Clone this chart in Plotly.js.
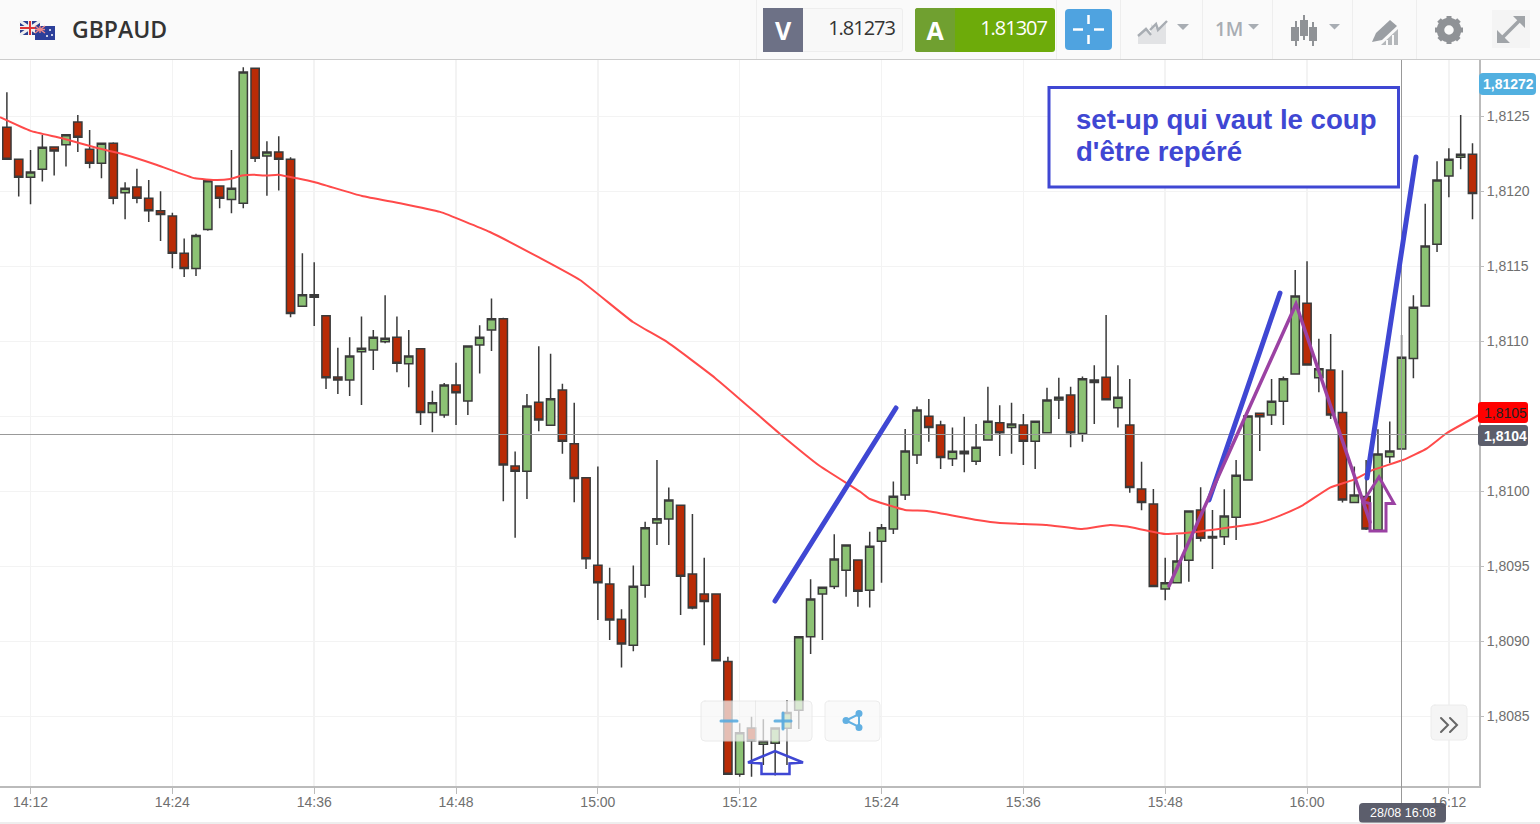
<!DOCTYPE html>
<html><head><meta charset="utf-8">
<script src="https://cdn.plot.ly/plotly-3.0.1.min.js"></script>
<style>
html,body{margin:0;padding:0;background:#fff;width:1540px;height:824px;overflow:hidden}
#chart{position:absolute;left:0;top:0;width:1540px;height:824px}
#top{position:absolute;left:0;top:0;width:1540px;height:59px;background:#fafafa;border-bottom:1px solid #ccc;font-family:"Open Sans",sans-serif;z-index:5}
#top div{position:absolute;box-sizing:border-box}
#top svg{position:absolute;left:0;top:0}
.sep{top:0;width:1px;height:59px;background:#eee}
.pr{font-size:20px;line-height:42px;height:42px;top:7px;text-align:right;letter-spacing:-1px}
.lt{font-size:25px;font-weight:700;color:#fff;text-align:center;top:8px;height:44px;line-height:44px;width:40px}
.shapelayer path{stroke-linecap:round}
</style></head><body>
<div id="chart"></div>
<div id="top">
 <div style="left:72px;top:11px;font-size:23px;font-weight:600;color:#333;line-height:36px">GBPAUD</div>
 <div class="sep" style="left:756px"></div><div class="sep" style="left:1056px"></div><div class="sep" style="left:1120px"></div><div class="sep" style="left:1202px"></div><div class="sep" style="left:1272px"></div><div class="sep" style="left:1352px"></div><div class="sep" style="left:1416px"></div>
 <div style="left:803px;top:8px;width:100px;height:44px;background:#f8f8f8;border:1px solid #eee;border-left:0;border-radius:0 3px 3px 0"></div>
 <div class="lt" style="left:763px;background:#6d7186">V</div>
 <div class="pr" style="left:803px;width:92px;color:#333">1.81273</div>
 <div style="left:915px;top:8px;width:140px;height:44px;background:#6dab0a;border-radius:3px"></div>
 <div class="lt" style="left:915px;background:#70a030;border-radius:3px 0 0 3px">A</div>
 <div class="pr" style="left:955px;width:92px;color:#fff">1.81307</div>
 <div style="left:1065px;top:9px;width:47px;height:41px;background:#4fa3e0;border-radius:4px"></div>
 <div style="left:1492px;top:10px;width:38px;height:38px;background:#f4f4f4"></div>
 <div style="left:1215px;top:8px;font-size:19px;line-height:42px;color:#a8adb3;font-weight:600">1M</div>
 <svg width="1540" height="59" viewBox="0 0 1540 59">
  <rect x="20" y="21" width="20" height="14" fill="#2a3f8f"/>
  <path d="M20 21L40 35M40 21L20 35" stroke="#eee" stroke-width="3"/>
  <path d="M30 21V35M20 28H40" stroke="#eee" stroke-width="4"/>
  <path d="M30 21V35M20 28H40" stroke="#d33" stroke-width="2"/>
  <rect x="35" y="26" width="20" height="14" fill="#2c3f9a"/>
  <path d="M35 26L45 33M45 26L35 33M40 26V33M35 29.5H45" stroke="#e88" stroke-width="1.4"/>
  <circle cx="50" cy="30" r="1" fill="#fff"/><circle cx="52" cy="35" r="1" fill="#fff"/><circle cx="47" cy="36" r="1" fill="#fff"/>
  <path d="M1088.5 15V24M1088.5 35V44M1073 29.5H1083M1094 29.5H1104" stroke="#fff" stroke-width="2.5"/>
  <path d="M1138 44V35L1146 27L1151 33V24L1157 29L1166 21V44Z" fill="#e2e3e5"/>
  <path d="M1138 36L1146 29L1151 35M1150 30L1156 24L1158 30L1167 21" stroke="#a8adb3" stroke-width="2.4" fill="none"/>
  <path d="M1177 24H1189L1183 30Z M1248 24H1259L1253.5 29.5Z M1329 24H1340L1334.5 29.5Z" fill="#a8adb3"/>
  <path d="M1296 21V46M1304 15V40M1313 22V46" stroke="#8f9296" stroke-width="2"/>
  <path d="M1291 27H1299V41H1291Z M1300 20H1308V36H1300Z M1309 27H1317V41H1309Z" fill="#8f9296"/>
  <path d="M1372 42L1376 33L1390 20L1397 26L1382 40Z" fill="#9a9ea3"/>
  <path d="M1381 45H1386V40H1388V45H1392V35H1394V45H1398V29Z" fill="#b4b7ba"/>
  <circle cx="1449" cy="30" r="8.5" fill="none" stroke="#8f9296" stroke-width="7.5"/>
  <path d="M1449 16V44M1435 30H1463M1439 20L1459 40M1459 20L1439 40" stroke="#8f9296" stroke-width="5" stroke-dasharray="4 20 4"/>
  <path d="M1500 40L1522 18" stroke="#a0a4a8" stroke-width="3.5"/>
  <path d="M1513 16H1525V28Z M1497 30V43H1510Z" fill="#a0a4a8"/>
 </svg>
</div>
<script>
// Time of each one-minute candle (28/08)
const times = ["14:10","14:11","14:12","14:13","14:14","14:15","14:16","14:17","14:18","14:19","14:20","14:21","14:22","14:23","14:24","14:25","14:26","14:27","14:28","14:29","14:30","14:31","14:32","14:33","14:34","14:35","14:36","14:37","14:38","14:39","14:40","14:41","14:42","14:43","14:44","14:45","14:46","14:47","14:48","14:49","14:50","14:51","14:52","14:53","14:54","14:55","14:56","14:57","14:58","14:59","15:00","15:01","15:02","15:03","15:04","15:05","15:06","15:07","15:08","15:09","15:10","15:11","15:12","15:13","15:14","15:15","15:16","15:17","15:18","15:19","15:20","15:21","15:22","15:23","15:24","15:25","15:26","15:27","15:28","15:29","15:30","15:31","15:32","15:33","15:34","15:35","15:36","15:37","15:38","15:39","15:40","15:41","15:42","15:43","15:44","15:45","15:46","15:47","15:48","15:49","15:50","15:51","15:52","15:53","15:54","15:55","15:56","15:57","15:58","15:59","16:00","16:01","16:02","16:03","16:04","16:05","16:06","16:07","16:08","16:09","16:10","16:11","16:12","16:13","16:14"];
const opens = [1.812428,1.812215,1.812095,1.812148,1.812297,1.812312,1.812464,1.812282,1.812188,1.812322,1.811992,1.812030,1.811955,1.811872,1.811837,1.811588,1.811486,1.811746,1.812037,1.811946,1.811922,1.812822,1.812237,1.812264,1.812215,1.811235,1.811312,1.811172,1.810764,1.810744,1.810932,1.810944,1.810999,1.811028,1.810852,1.810952,1.810526,1.810510,1.810710,1.810604,1.810977,1.811077,1.811152,1.810170,1.810135,1.810595,1.810442,1.810677,1.810319,1.810092,1.809508,1.809384,1.809148,1.808975,1.809375,1.809790,1.809817,1.809908,1.809450,1.809317,1.809317,1.808866,1.808115,1.808424,1.808315,1.808322,1.808422,1.808542,1.809032,1.809317,1.809366,1.809475,1.809544,1.809342,1.809668,1.809750,1.809977,1.810244,1.810502,1.810444,1.810219,1.810252,1.810202,1.810344,1.810459,1.810426,1.810444,1.810335,1.810392,1.810610,1.810644,1.810386,1.810744,1.810762,1.810559,1.810444,1.810017,1.809917,1.809350,1.809392,1.809542,1.809877,1.809690,1.809699,1.809828,1.810077,1.810522,1.810510,1.810602,1.810784,1.811255,1.810759,1.810810,1.810526,1.809926,1.809966,1.809744,1.810232,1.810284,1.810886,1.811237,1.811648,1.812104,1.812228,1.812248];
const highs = [1.812662,1.812215,1.812277,1.812377,1.812297,1.812379,1.812510,1.812410,1.812322,1.812328,1.812062,1.812152,1.812077,1.812002,1.811859,1.811686,1.811719,1.812072,1.812037,1.812277,1.812828,1.812822,1.812335,1.812368,1.812228,1.811588,1.811528,1.811177,1.810959,1.811028,1.811166,1.811077,1.811308,1.811166,1.811077,1.810952,1.810672,1.810724,1.810859,1.810970,1.811108,1.811286,1.811159,1.810266,1.810650,1.810968,1.810919,1.810719,1.810592,1.810092,1.810166,1.809492,1.809215,1.809506,1.809799,1.810210,1.810026,1.809908,1.809850,1.809559,1.809317,1.808899,1.808455,1.808499,1.808482,1.808424,1.808610,1.809032,1.809415,1.809362,1.809715,1.809644,1.809544,1.809732,1.809784,1.810066,1.810417,1.810566,1.810617,1.810472,1.810426,1.810499,1.810450,1.810699,1.810575,1.810592,1.810517,1.810468,1.810692,1.810759,1.810699,1.810766,1.810842,1.811177,1.810842,1.810750,1.810199,1.810017,1.809559,1.809710,1.809870,1.810028,1.809877,1.810015,1.810210,1.810504,1.810522,1.810750,1.810766,1.811477,1.811535,1.811019,1.811050,1.810808,1.810166,1.810210,1.810415,1.810466,1.811044,1.811308,1.811919,1.812202,1.812288,1.812510,1.812322];
const lows = [1.812215,1.811966,1.811915,1.812066,1.812106,1.812166,1.812264,1.812155,1.812088,1.811915,1.811815,1.811922,1.811797,1.811670,1.811488,1.811430,1.811437,1.811739,1.811888,1.811855,1.811888,1.812197,1.811972,1.812006,1.811162,1.811235,1.811104,1.810684,1.810650,1.810637,1.810577,1.810810,1.810988,1.810795,1.810695,1.810444,1.810395,1.810492,1.810444,1.810510,1.810786,1.810937,1.809935,1.809692,1.809950,1.810402,1.810442,1.810252,1.809928,1.809484,1.809144,1.809010,1.808826,1.808935,1.809292,1.809644,1.809644,1.809177,1.809215,1.808975,1.808868,1.808115,1.808099,1.808099,1.808177,1.808106,1.808177,1.808417,1.808917,1.809010,1.809350,1.809299,1.809232,1.809226,1.809392,1.809717,1.809944,1.810184,1.810332,1.810150,1.810170,1.810128,1.810177,1.810344,1.810237,1.810252,1.810177,1.810150,1.810392,1.810484,1.810295,1.810332,1.810450,1.810612,1.810426,1.809992,1.809875,1.809366,1.809275,1.809392,1.809399,1.809666,1.809484,1.809644,1.809677,1.810077,1.810270,1.810444,1.810444,1.810784,1.810844,1.810662,1.810484,1.809926,1.809926,1.809744,1.809744,1.810188,1.810284,1.810755,1.811237,1.811597,1.811962,1.812148,1.811815];
const closes = [1.812215,1.812095,1.812130,1.812295,1.812270,1.812379,1.812362,1.812188,1.812322,1.811955,1.812022,1.811955,1.811872,1.811846,1.811588,1.811486,1.811706,1.812072,1.811955,1.812022,1.812797,1.812222,1.812264,1.812215,1.811186,1.811312,1.811295,1.810759,1.810744,1.810904,1.810955,1.811028,1.811022,1.810855,1.810904,1.810526,1.810592,1.810710,1.810659,1.810970,1.811028,1.811152,1.810177,1.810135,1.810570,1.810477,1.810619,1.810335,1.810086,1.809552,1.809392,1.809144,1.808984,1.809368,1.809759,1.809819,1.809944,1.809435,1.809224,1.809266,1.808872,1.808115,1.808392,1.808339,1.808337,1.808424,1.808526,1.809032,1.809284,1.809362,1.809550,1.809644,1.809335,1.809635,1.809759,1.809968,1.810270,1.810544,1.810426,1.810226,1.810268,1.810268,1.810295,1.810468,1.810392,1.810450,1.810335,1.810468,1.810610,1.810628,1.810392,1.810752,1.810726,1.810612,1.810628,1.810026,1.809926,1.809366,1.809392,1.809537,1.809870,1.809688,1.809700,1.809837,1.810108,1.810504,1.810499,1.810602,1.810752,1.811304,1.810844,1.810819,1.810510,1.809944,1.809977,1.809750,1.810250,1.810270,1.810895,1.811228,1.811637,1.812077,1.812215,1.812248,1.811986];
// Moving average read at irregular times
const maTimes = ["14:09:25","14:12:00","14:14:40","14:17:43","14:19:50","14:22:42","14:25:55","14:27:47","14:28:53","14:29:53","14:30:49","14:32:00","14:32:56","14:34:33","14:36:04","14:40:03","14:43:16","14:46:39","14:50:52","14:55:06","14:58:29","15:02:58","15:05:51","15:09:55","15:15:25","15:18:47","15:22:11","15:23:01","15:25:59","15:27:51","15:32:05","15:34:01","15:37:59","15:40:58","15:43:20","15:44:46","15:47:59","15:50:06","15:55:46","15:57:43","15:59:40","16:01:57","16:03:54","16:05:35","16:08:07","16:10:09","16:11:50","16:14:33"];
const maValues = [1.812495,1.812404,1.812355,1.812288,1.812248,1.812177,1.812088,1.812077,1.812084,1.812106,1.812112,1.812106,1.812112,1.812088,1.812062,1.811970,1.811922,1.811864,1.811730,1.811557,1.811410,1.811130,1.810997,1.810757,1.810384,1.810170,1.809999,1.809950,1.809877,1.809870,1.809810,1.809790,1.809777,1.809750,1.809777,1.809766,1.809717,1.809726,1.809788,1.809839,1.809910,1.810026,1.810077,1.810144,1.810210,1.810288,1.810390,1.810510];
// Price tick positions and labels (the 1,8105 label is hidden by the red quote tag)
const priceTicks = [1.8085,1.8090,1.8095,1.8100,1.8105,1.8110,1.8115,1.8120,1.8125];
const priceLabels = ["1,8085","1,8090","1,8095","1,8100","","1,8110","1,8115","1,8120","1,8125"];
const day = "2017-08-28 ";
const stamp = t => day + (t.length === 5 ? t + ":00" : t);

const PW = 1479, PH = 726, PT = 60;
const X = px => px / PW, Y = py => 1 - (py - PT) / PH;
const poly = (pts, close) => "M" + pts.map(p => X(p[0]) + " " + Y(p[1])).join("L") + (close ? "Z" : "");
const shp = (pts, color, w, close, fill, op) => ({type:"path", xref:"paper", yref:"paper", layer:"above", path:poly(pts, close),
  line:{color:color, width:w}, fillcolor:fill || "rgba(0,0,0,0)", opacity: op === undefined ? 1 : op});
const round = (x0,y0,x1,y1,r,fill,op,lc,lw) => {
  const a=(x,y)=>X(x)+" "+Y(y);
  return {type:"path", xref:"paper", yref:"paper", layer:"above", fillcolor:fill, opacity:op===undefined?1:op, line:{color:lc||"rgba(0,0,0,0)",width:lw||0},
   path:`M${a(x0+r,y0)}L${a(x1-r,y0)}Q${a(x1,y0)} ${a(x1,y0+r)}L${a(x1,y1-r)}Q${a(x1,y1)} ${a(x1-r,y1)}L${a(x0+r,y1)}Q${a(x0,y1)} ${a(x0,y1-r)}L${a(x0,y0+r)}Q${a(x0,y0)} ${a(x0+r,y0)}Z`};
};
const BLUE = "#3f47d3", PURPLE = "#9b42a3", GREY = "#999";
const dot = (x0,y0,x1,y1) => ({type:"circle",xref:"paper",yref:"paper",layer:"above",x0:X(x0),x1:X(x1),y0:Y(y1),y1:Y(y0),fillcolor:"#62b0e2",line:{width:0}});
const shapes = [
  shp([[0,434.5],[1480,434.5]], GREY, 1),
  shp([[1401.5,60],[1401.5,805]], GREY, 1),
  shp([[775,601],[896,408]], BLUE, 5),
  shp([[1209,500],[1280,293]], BLUE, 5),
  shp([[1367,478],[1416,157]], BLUE, 5),
  shp([[1169,586],[1296,304],[1370,522]], PURPLE, 3.5),
  shp([[1370,531],[1386,531],[1386,503.5],[1394,503.5],[1379,477],[1363,502],[1370,503.5]], PURPLE, 3, true),
  shp([[761.5,774],[789.5,774],[789.5,763.5],[803,762.5],[775,751],[748,762.5],[761.5,763.5]], BLUE, 2.5, true),
  shp([[1049,87.5],[1398.5,87.5],[1398.5,187],[1049,187]], BLUE, 3, true, "#fff"),
  round(701,701,812,741,4,"#f7f7f7",0.72,"#e4e4e4",1),
  shp([[755.5,701],[755.5,741]], "#ddd", 1, false, null, 0.5),
  shp([[721,721],[737,721]], "#5aace0", 3, false, null, 0.9),
  shp([[775,721],[791,721]], "#5aace0", 3, false, null, 0.9),
  shp([[783,713],[783,729]], "#5aace0", 3, false, null, 0.9),
  round(825,701,880,741,4,"#fafafa",0.8,"#e8e8e8",1),
  shp([[846,720.5],[859,714],[859,727],[846,720.5]], "#62b0e2", 2),
  dot(842.5,717,849.5,724), dot(855.5,710,862.5,717), dot(855.5,724,862.5,731),
  round(1431,705,1467,740,4,"#f5f5f5",1,"#ececec",1),
  shp([[1441,718],[1448,725],[1441,732]], "#666", 2),
  shp([[1450,718],[1457,725],[1450,732]], "#666", 2),
  round(1479,73,1536,95,4,"#52b0e0"),
  round(1478,402,1528,423,3,"#ff0000"),
  round(1478,425,1528,446,3,"#5c5e6b"),
  round(1359,803,1446,823,4,"#555766",0.96),
  shp([[0,823],[1540,823]], "#ddd", 1)
];
const note = (txt, px, py, size, color, anchor, weight) => ({text:txt, xref:"paper", yref:"paper", x:X(px), y:Y(py), xanchor:anchor||"center", yanchor:"middle", showarrow:false,
  font:{family:"Liberation Sans, Arial, sans-serif", size:size, color:color, weight:weight||400}, borderpad:0});
const annotations = [
  note("set-up qui vaut le coup",1074.5,120,27.6,BLUE,"left",700),
  note("d'être repéré",1074.5,152,27.6,BLUE,"left",700),
  note("1,81272",1508.5,84,14,"#fff","center",700),
  note("1,8105",1505,413,14,"#222","center",400),
  note("1,8104",1505,436,14,"#fff","center",700),
  note("28/08 16:08",1402.5,813,12.5,"#fff","center",400)
];
const candles = {
  type:"candlestick", x:times.map(stamp), open:opens, high:highs, low:lows, close:closes,
  increasing:{fillcolor:"#8cc274", line:{color:"#3a3a3a", width:1.5}},
  decreasing:{fillcolor:"#b92b06", line:{color:"#3a3a3a", width:1.5}},
  whiskerwidth:0, hoverinfo:"skip", showlegend:false
};
const ma = {type:"scatter", mode:"lines", x:maTimes.map(stamp), y:maValues, line:{color:"#ff4a4a", width:2, shape:"spline", smoothing:0.4}, hoverinfo:"skip", showlegend:false};
const axisFont = {family:"Liberation Sans, Arial, sans-serif", size:14, color:"#6f6f6f"};
const layout = {
  width:1540, height:824, margin:{l:0,r:61,t:60,b:38,pad:0}, paper_bgcolor:"#fff", plot_bgcolor:"#fff",
  showlegend:false, hovermode:false, dragmode:false, boxgap:0.3, boxgroupgap:0,
  xaxis:{type:"date", range:[day+"14:09:25", day+"16:14:33"], tick0:day+"14:00:00", dtick:720000, tickformat:"%H:%M", ticks:"outside", ticklen:6, tickcolor:"#bbb",
    ticklabelstandoff:-4, showgrid:true, gridcolor:"#f3f3f3", gridwidth:1.5, showline:true, linecolor:"#bbb", linewidth:2, tickfont:axisFont, rangeslider:{visible:false}, zeroline:false, fixedrange:true},
  yaxis:{side:"right", range:[1.8080367,1.8128767], tickmode:"array", tickvals:priceTicks, ticktext:priceLabels, ticks:"outside", ticklen:3, tickcolor:"#bbb",
    showgrid:true, gridcolor:"#f3f3f3", gridwidth:1.5, showline:true, linecolor:"#bbb", linewidth:2, tickfont:axisFont, zeroline:false, fixedrange:true},
  shapes:shapes, annotations:annotations
};
Plotly.newPlot("chart",[candles,ma],layout,{displayModeBar:false,staticPlot:true});
</script>
</body></html>
